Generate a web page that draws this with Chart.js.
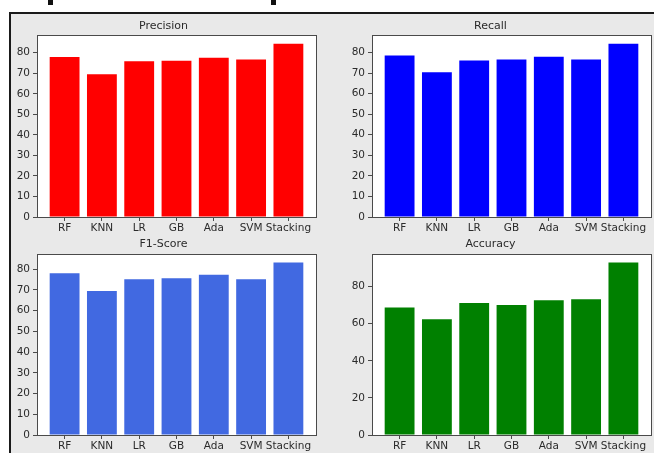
<!DOCTYPE html>
<html>
<head>
<meta charset="utf-8">
<script src="https://cdn.jsdelivr.net/npm/chart.js@4.4.1/dist/chart.umd.min.js"></script>
<style>
  html, body { margin: 0; padding: 0; background: #ffffff; }
  #fig { position: relative; width: 654px; height: 453px; overflow: hidden; background: #ffffff; }
  #frame { position: absolute; left: 9px; top: 12px; width: 660px; height: 460px;
           background: #e9e9e9; border-left: 2px solid #1a1a1a; border-top: 2px solid #1a1a1a; box-sizing: border-box; }
  .frag { position: absolute; top: 0; width: 5px; height: 5px; background: #111; }
  canvas { position: absolute; }
</style>
</head>
<body>
<div id="fig">
  <div class="frag" style="left:48px"></div>
  <div class="frag" style="left:271px"></div>
  <div id="frame"></div>
  <canvas id="cPrecision" width="309" height="222" style="left:11px;top:13px"></canvas>
  <canvas id="cRecall" width="324" height="222" style="left:330px;top:13px"></canvas>
  <canvas id="cF1" width="309" height="218" style="left:11px;top:235px"></canvas>
  <canvas id="cAccuracy" width="324" height="218" style="left:330px;top:235px"></canvas>
</div>
<script>
// Model names along each x axis
const categories = ['RF', 'KNN', 'LR', 'GB', 'Ada', 'SVM', 'Stacking'];

// Scores (%) per model
const precision = [77.9, 69.5, 75.8, 76.1, 77.6, 76.7, 84.4];
const recall    = [78.5, 70.4, 76.1, 76.6, 77.9, 76.6, 84.3];
const f1Score   = [78.1, 69.5, 75.2, 75.7, 77.4, 75.2, 83.2];
const accuracy  = [68.7, 62.4, 71.2, 70.1, 72.6, 73.2, 92.9];

// Panel titles and y tick steps
const panelTitles = ['Precision', 'Recall', 'F1-Score', 'Accuracy'];
const yTickSteps  = [10, 10, 10, 20];

const FONT = 'DejaVu Sans, Liberation Sans, sans-serif';
const TEXT = '#2b2b2b';
const AXIS = '#4a4a4a';

// White plotting area with a thin frame on all four sides
const framePlugin = {
  id: 'axesFrame',
  beforeDraw(chart) {
    const { ctx, chartArea: a } = chart;
    ctx.save();
    ctx.fillStyle = '#ffffff';
    ctx.fillRect(a.left, a.top, a.right - a.left, a.bottom - a.top);
    ctx.restore();
  },
  afterDraw(chart) {
    const { ctx, chartArea: a } = chart;
    ctx.save();
    ctx.strokeStyle = AXIS;
    ctx.lineWidth = 1;
    ctx.strokeRect(Math.round(a.left) + 0.5, Math.round(a.top) + 0.5,
                   Math.round(a.right - a.left), Math.round(a.bottom - a.top));
    ctx.restore();
  }
};

function makePanel(id, title, values, color, step, geom) {
  const yMax = Math.max(...values) * 1.05;
  const points = values.map((v, i) => ({ x: i, y: v }));
  new Chart(document.getElementById(id), {
    type: 'bar',
    data: {
      datasets: [{
        data: points,
        backgroundColor: color,
        borderWidth: 0,
        barPercentage: 0.8,
        categoryPercentage: 1.0
      }]
    },
    plugins: [framePlugin],
    options: {
      responsive: false,
      animation: false,
      devicePixelRatio: 1,
      layout: { padding: { left: 0, right: geom.padRight, top: 0, bottom: 0 } },
      plugins: {
        legend: { display: false },
        tooltip: { enabled: false },
        title: {
          display: true,
          text: title,
          color: TEXT,
          font: { family: FONT, size: 11, weight: 'normal', lineHeight: 1.2 },
          padding: { top: geom.titleTop, bottom: geom.titleBottom }
        }
      },
      scales: {
        x: {
          type: 'linear',
          offset: false,
          min: -0.74,
          max: categories.length - 1 + 0.74,
          afterBuildTicks: s => { s.ticks = categories.map((_, i) => ({ value: i })); },
          afterFit: s => { s.height = geom.xAxisH; },
          grid: { display: true, offset: false, drawOnChartArea: false, drawTicks: true, tickLength: 4, color: AXIS },
          border: { display: true, color: AXIS },
          ticks: {
            autoSkip: false, maxRotation: 0, padding: 1,
            color: TEXT, font: { family: FONT, size: 10.5 },
            callback: v => categories[v]
          }
        },
        y: {
          min: 0,
          max: yMax,
          afterFit: s => { s.width = geom.yAxisW; },
          grid: { display: true, drawOnChartArea: false, drawTicks: true, tickLength: 4, color: AXIS },
          border: { display: true, color: AXIS },
          ticks: {
            stepSize: step, includeBounds: false, padding: 3,
            color: TEXT, font: { family: FONT, size: 10.5 }
          }
        }
      }
    }
  });
}

makePanel('cPrecision', panelTitles[0], precision, '#ff0000', yTickSteps[0],
  { yAxisW: 26, padRight: 4, titleTop: 6.5, titleBottom: 2.3, xAxisH: 18 });
makePanel('cRecall', panelTitles[1], recall, '#0000ff', yTickSteps[1],
  { yAxisW: 42, padRight: 3, titleTop: 6.5, titleBottom: 2.3, xAxisH: 18 });
makePanel('cF1', panelTitles[2], f1Score, '#4169e1', yTickSteps[2],
  { yAxisW: 26, padRight: 4, titleTop: 2.4, titleBottom: 3.4, xAxisH: 18 });
makePanel('cAccuracy', panelTitles[3], accuracy, '#008000', yTickSteps[3],
  { yAxisW: 42, padRight: 3, titleTop: 2.4, titleBottom: 3.4, xAxisH: 18 });
</script>
</body>
</html>
